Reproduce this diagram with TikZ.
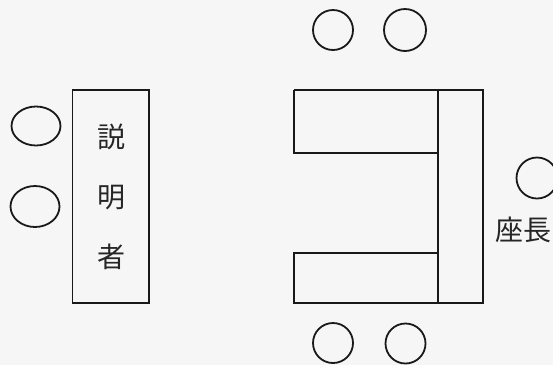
\documentclass[tikz,border=0pt]{standalone}
\usepackage{fontspec}
\newfontfamily\cjk{Noto Sans CJK JP}
\usetikzlibrary{shapes.geometric}
\begin{document}
\begin{tikzpicture}[x=1pt,y=-1pt,
  seat/.style={draw=black!90,line width=1.8pt,circle,inner sep=0pt,minimum size=40pt},
  seatwide/.style={draw=black!90,line width=1.8pt,ellipse,inner sep=0pt,minimum width=49pt,minimum height=39pt},
  tbl/.style={draw=black!90,line width=1.2pt},
  lbl/.style={font=\cjk\fontsize{28pt}{30pt}\selectfont,text=black!85,inner sep=0pt}]
\fill[gray!7] (0,0) rectangle (553,365);
\useasboundingbox (0,0) rectangle (553,365);
% seats
\node[seat] (t1) at (333,30) {};
\node[seat,minimum size=42pt] (t2) at (405,30) {};
\node[seat] (b1) at (333,343) {};
\node[seat] (b2) at (405.5,343.5) {};
\node[seatwide] (l1) at (36,126) {};
\node[seatwide,minimum height=41pt] (l2) at (35,206.5) {};
\node[seat,minimum size=41pt] (r1) at (537,178) {};
% presenter desk
\node[tbl,rectangle,inner sep=0pt,minimum width=76.5pt,minimum height=213pt] (desk) at (110.75,196.5) {};
\node[lbl] (c1) at (111,137) {説};
\node[lbl] (c2) at (111,198) {明};
\node[lbl] (c3) at (111,257) {者};
% U-shaped tables
\coordinate (ua) at (294,90);
\coordinate (ub) at (483,90);
\coordinate (uc) at (483,303);
\coordinate (ud) at (294,303);
\draw[tbl] (ua) -- (ub) -- (uc) -- (ud) -- (294,253) -- (438,253);
\draw[tbl] (ua) -- (294,153) -- (438,153);
\draw[tbl] (438,90) -- (438,303);
% chair label
\node[lbl] (chair) at (523,230) {座長};
\end{tikzpicture}
\end{document}
